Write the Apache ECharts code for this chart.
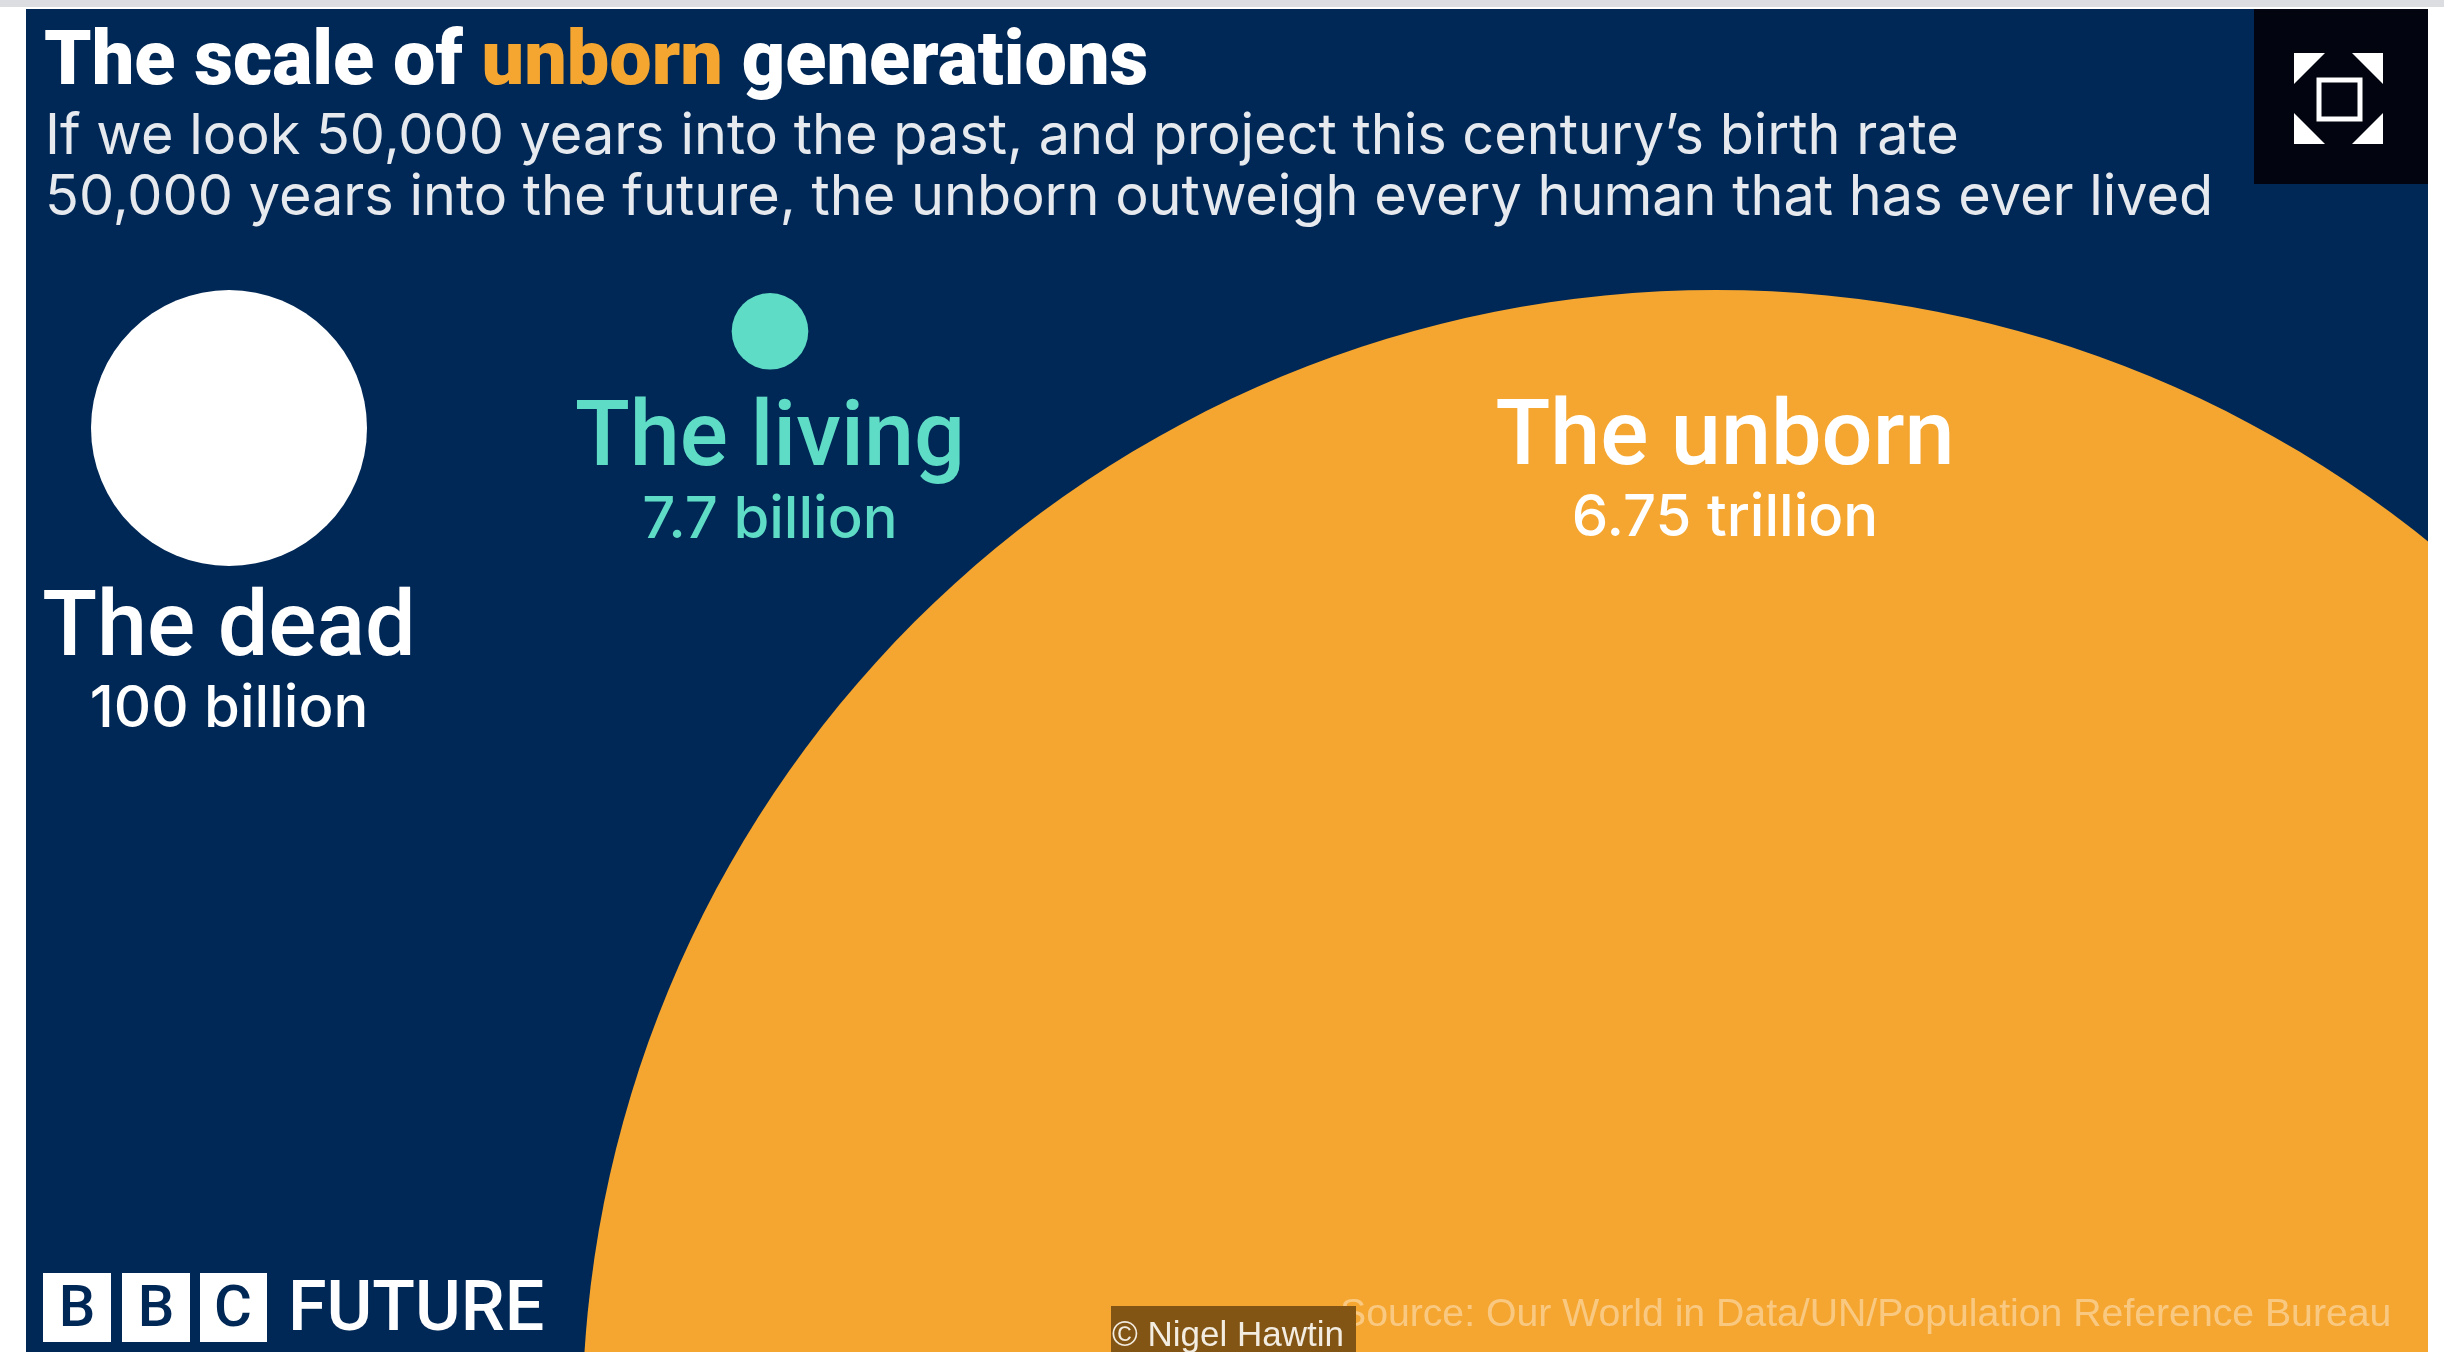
<!DOCTYPE html>
<html>
<head>
<meta charset="utf-8">
<style>
html,body{margin:0;padding:0;background:#fff}
#main{width:2444px;height:1352px}
</style>
<script src="https://cdn.jsdelivr.net/npm/echarts@6/dist/echarts.min.js"></script>
</head>
<body>
<div id="main"></div>
<script>
// 数据
var groups = ['The dead', 'The living', 'The unborn'];
var populationBillions = [100, 7.7, 6750];
var populationLabels = ['100 billion', '7.7 billion', '6.75 trillion'];
var groupX = [229, 770, 1716];
var groupTop = [0, 3, 0];

var navy = '#002856', orange = '#f5a630', teal = '#5fdcc6', white = '#ffffff';
var groupColors = [white, teal, orange];
var labelColors = [white, teal, white];
var labelDistance = [18, 25, 103];
var font = 'Roboto';

// bubble area is proportional to the population
var sizeScale = 27.6;

var bubbles = groups.map(function (name, i) {
    var inside = i === 2;
    return {
        name: name,
        value: [groupX[i], groupTop[i], populationBillions[i]],
        itemStyle: {color: groupColors[i], opacity: 1},
        label: {
            show: true,
            position: inside ? 'insideTop' : 'bottom',
            distance: labelDistance[i],
            offset: inside ? [9, 0] : [0, 0],
            formatter: '{a|' + name + '}\n{b|' + populationLabels[i] + '}',
            rich: {
                a: {fontFamily: font, fontSize: 90, fontWeight: 500, lineHeight: 96, color: labelColors[i], align: 'center'},
                b: {fontFamily: 'Inter', fontSize: 58, fontWeight: 500, lineHeight: 60, color: labelColors[i], align: 'center'}
            }
        }
    };
});

function tri(a, b, c) {
    return {type: 'polygon', z: 5, shape: {points: [a, b, c]}, style: {fill: white}};
}

var myChart = echarts.init(document.getElementById('main'));
myChart.setOption({
    animation: false,
    backgroundColor: white,
    title: [{
        text: 'The scale of {u|unborn} generations',
        left: 39, top: 22,
        textStyle: {
            fontFamily: font, fontSize: 75.5, fontWeight: 900, color: white,
            rich: {u: {fontFamily: font, fontSize: 75.5, fontWeight: 900, color: orange}}
        }
    }, {
        text: 'If we look 50,000 years into the past, and project this century’s birth rate\n50,000 years into the future, the unborn outweigh every human that has ever lived',
        left: 40, top: 102,
        textStyle: {fontFamily: 'Inter', fontSize: 55.8, fontWeight: 400, lineHeight: 61, color: '#e6eaef'}
    }],
    grid: {left: 26, right: 16, top: 9, bottom: 0},
    xAxis: {type: 'value', min: 26, max: 2428, show: false},
    yAxis: {type: 'value', inverse: true, min: -281, max: 1062, show: false},
    series: [{
        type: 'scatter',
        data: bubbles,
        symbol: 'circle',
        symbolSize: function (d) { return sizeScale * Math.sqrt(d[2]); },
        symbolOffset: [0, '50%'],
        silent: true
    }],
    graphic: [
        {type: 'rect', z: -2, shape: {x: 0, y: 0, width: 2444, height: 7}, style: {fill: '#dcdde0'}},
        {type: 'rect', z: -2, shape: {x: 26, y: 9, width: 2402, height: 1343}, style: {fill: navy}},
        // page margin right of the panel, the big circle runs under it
        {type: 'rect', z: 4, shape: {x: 2428, y: 7, width: 16, height: 1345}, style: {fill: white}},
        // fullscreen button
        {type: 'rect', z: 4, shape: {x: 2254, y: 9, width: 174, height: 175}, style: {fill: '#02040f'}},
        {type: 'rect', z: 5, shape: {x: 2319, y: 80, width: 41, height: 39}, style: {fill: 'none', stroke: white, lineWidth: 5}},
        tri([2294, 53], [2325, 53], [2294, 84]),
        tri([2383, 53], [2352, 53], [2383, 84]),
        tri([2294, 144], [2325, 144], [2294, 113]),
        tri([2383, 144], [2352, 144], [2383, 113]),
        // BBC logo
        {type: 'rect', z: 5, shape: {x: 43, y: 1273, width: 68, height: 69}, style: {fill: white}},
        {type: 'rect', z: 5, shape: {x: 122, y: 1273, width: 68, height: 69}, style: {fill: white}},
        {type: 'rect', z: 5, shape: {x: 200, y: 1273, width: 67, height: 69}, style: {fill: white}},
        {type: 'text', z: 6, x: 77, y: 1311, style: {text: 'B', font: '500 58px Roboto', fill: navy, align: 'center', verticalAlign: 'middle'}},
        {type: 'text', z: 6, x: 156, y: 1311, style: {text: 'B', font: '500 58px Roboto', fill: navy, align: 'center', verticalAlign: 'middle'}},
        {type: 'text', z: 6, x: 233, y: 1311, style: {text: 'C', font: '500 58px Roboto', fill: navy, align: 'center', verticalAlign: 'middle'}},
        {type: 'text', z: 6, x: 288, y: 1312, style: {text: 'FUTURE', font: '500 70px Roboto', fill: white, align: 'left', verticalAlign: 'middle'}},
        // source and photo credit
        {type: 'text', z: 6, x: 1340, y: 1315, style: {text: 'Source: Our World in Data/UN/Population Reference Bureau', font: '39.2px "Liberation Sans"', fill: 'rgba(255,255,255,0.4)', align: 'left', verticalAlign: 'middle'}},
        {type: 'rect', z: 7, shape: {x: 1111, y: 1306, width: 245, height: 46}, style: {fill: '#825515'}},
        {type: 'text', z: 8, x: 1112, y: 1336, style: {text: '© Nigel Hawtin', font: '35px "Liberation Sans"', fill: '#f3ece0', align: 'left', verticalAlign: 'middle'}}
    ]
});
</script>
</body>
</html>
